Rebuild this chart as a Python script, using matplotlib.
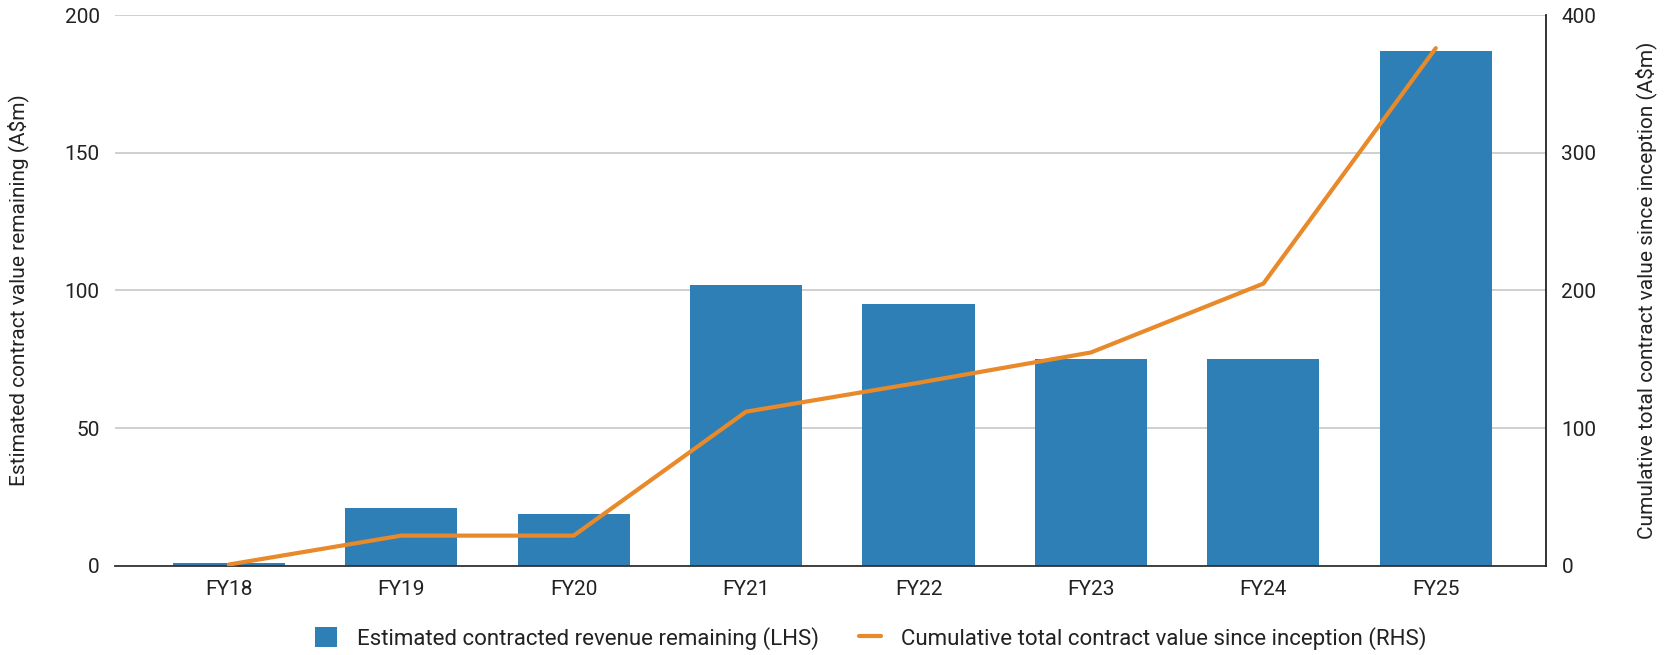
import matplotlib
matplotlib.use("Agg")
import matplotlib.pyplot as plt
import numpy as np

categories = ["FY18", "FY19", "FY20", "FY21", "FY22", "FY23", "FY24", "FY25"]
remaining = [1, 21, 19, 102, 95, 75, 75, 187]
cumulative = [1, 22, 22, 112, 133, 155, 205, 376]

plt.rcParams['font.family'] = ['Roboto', 'DejaVu Sans']

fig = plt.figure(figsize=(16.67, 6.55), dpi=100)
ax = fig.add_axes([0.069, 0.136, 0.8585, 0.841])
ax2 = ax.twinx()

x = np.arange(len(categories))
bar_color = "#2e7fb5"
line_color = "#e8892a"

ax.bar(x, remaining, width=0.65, color=bar_color, zorder=2,
       label="Estimated contracted revenue remaining (LHS)")
ax2.plot(x, cumulative, color=line_color, lw=3, zorder=3, solid_capstyle='round',
         label="Cumulative total contract value since inception (RHS)")

ax.set_xlim(-0.66, 7.64)
ax.set_ylim(0, 200)
ax2.set_ylim(0, 400)
ax.set_yticks([0, 50, 100, 150, 200])
ax2.set_yticks([0, 100, 200, 300, 400])
ax.set_xticks(x)
ax.set_xticklabels(categories)

ax.grid(axis='y', color='#cccccc', lw=1.3, zorder=0)
ax.set_axisbelow(True)
for s in ['top', 'left']:
    ax.spines[s].set_visible(False)
    ax2.spines[s].set_visible(False)
ax.spines['right'].set_visible(False)
ax2.spines['bottom'].set_visible(False)
ax.spines['bottom'].set_color('#333333')
ax.spines['bottom'].set_linewidth(1.3)
ax2.spines['right'].set_color('#222222')
ax2.spines['right'].set_linewidth(1.3)

ax.tick_params(axis='y', length=0, labelsize=15, colors='#222222', pad=11)
ax.tick_params(axis='x', length=0, labelsize=15, colors='#222222', pad=10)
ax2.tick_params(axis='y', length=0, labelsize=15, colors='#222222', pad=11)

ax.set_ylabel("Estimated contract value remaining (A$m)", fontsize=15, color='#222222')
ax2.set_ylabel("Cumulative total contract value since inception (A$m)", fontsize=15, color='#222222')
ax.yaxis.set_label_coords(-0.060, 0.5)
ax2.yaxis.set_label_coords(1.062, 0.5)

h1, l1 = ax.get_legend_handles_labels()
h2, l2 = ax2.get_legend_handles_labels()
fig.legend(h1 + h2, l1 + l2, loc='center', bbox_to_anchor=(0.5225, 0.025), ncol=2,
           frameon=False, fontsize=16, handlelength=1.0, handleheight=1.0,
           columnspacing=1.8, handletextpad=0.9, labelcolor='#222222')

fig.savefig("out.png", dpi=100)
